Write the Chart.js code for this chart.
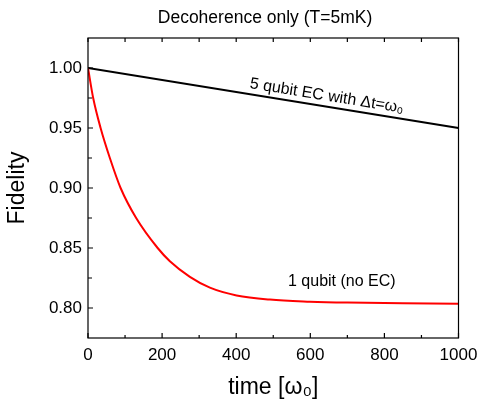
<!DOCTYPE html>
<html>
<head>
<meta charset="utf-8">
<script src="https://cdn.jsdelivr.net/npm/chart.js@4.4.0/dist/chart.umd.min.js"></script>
<style>
    html, body { margin: 0; padding: 0; background: #fff; }
</style>
</head>
<body>
<canvas id="graficoFidelidade" width="479" height="401"></canvas>
<script>
// curva vermelha: 1 qubit sem correcao
const tempo1q = [0, 14, 34, 59, 88, 130, 188, 221, 275, 329, 401, 491, 599, 700, 850, 1000];
const fid1q = [1.0, 0.975, 0.95, 0.925, 0.90, 0.875, 0.85, 0.839, 0.826, 0.817, 0.8105, 0.807, 0.8053, 0.8045, 0.804, 0.8035];

// reta preta: 5 qubits com EC
const tempo5q = [0, 1000];
const fid5q = [1.0, 0.95];

const ticksX = [0, 200, 400, 600, 800, 1000];
const ticksXmenor = [100, 300, 500, 700, 900];
const ticksY = [0.80, 0.85, 0.90, 0.95, 1.00];
const ticksYmenor = [0.825, 0.875, 0.925, 0.975];

const fonte = "'Liberation Sans', Arial, sans-serif";

function pontos(xs, ys) {
    return xs.map(function (v, i) { return { x: v, y: ys[i] }; });
}

// moldura, ticks para dentro e textos
const moldura = {
    id: 'moldura',
    afterDraw(chart) {
        const ctx = chart.ctx;
        const a = chart.chartArea;
        const x = chart.scales.x;
        const y = chart.scales.y;
        ctx.save();
        ctx.strokeStyle = '#000';
        ctx.lineWidth = 1.2;
        ctx.strokeRect(a.left, a.top, a.right - a.left, a.bottom - a.top);

        ctx.beginPath();
        ticksX.forEach(function (v) {
            const px = x.getPixelForValue(v);
            ctx.moveTo(px, a.bottom); ctx.lineTo(px, a.bottom - 5);
            ctx.moveTo(px, a.top); ctx.lineTo(px, a.top + 4);
        });
        ticksXmenor.forEach(function (v) {
            const px = x.getPixelForValue(v);
            ctx.moveTo(px, a.bottom); ctx.lineTo(px, a.bottom - 3);
            ctx.moveTo(px, a.top); ctx.lineTo(px, a.top + 4);
        });
        ticksY.forEach(function (v) {
            const py = y.getPixelForValue(v);
            ctx.moveTo(a.left, py); ctx.lineTo(a.left + 5, py);
        });
        ticksYmenor.forEach(function (v) {
            const py = y.getPixelForValue(v);
            ctx.moveTo(a.left, py); ctx.lineTo(a.left + 4, py);
        });
        ctx.stroke();

        ctx.fillStyle = '#000';
        ctx.font = '17.5px ' + fonte;
        ctx.textAlign = 'center';
        ctx.textBaseline = 'middle';
        ctx.fillText('Decoherence only (T=5mK)', 265, 18);

        // rotulo da reta preta, acompanhando a inclinacao
        const x0 = x.getPixelForValue(tempo5q[0]), y0 = y.getPixelForValue(fid5q[0]);
        const x1 = x.getPixelForValue(tempo5q[1]), y1 = y.getPixelForValue(fid5q[1]);
        const ang = Math.atan2(y1 - y0, x1 - x0);
        const tx = x.getPixelForValue(640);
        const ty = y0 + (tx - x0) * Math.tan(ang);
        ctx.save();
        ctx.translate(tx, ty);
        ctx.rotate(ang);
        ctx.font = '16px ' + fonte;
        ctx.textBaseline = 'alphabetic';
        ctx.fillText('5 qubit EC with \u0394t=\u03c9\u2080', 0, -6);
        ctx.restore();

        ctx.font = '16px ' + fonte;
        ctx.fillText('1 qubit (no EC)', x.getPixelForValue(685), y.getPixelForValue(0.8222));
        ctx.restore();
    }
};

new Chart(document.getElementById('graficoFidelidade'), {
    type: 'line',
    data: {
        datasets: [{
            label: '1 qubit (no EC)',
            data: pontos(tempo1q, fid1q),
            borderColor: 'rgb(255, 0, 0)',
            borderWidth: 2,
            pointRadius: 0,
            cubicInterpolationMode: 'monotone',
            fill: false
        }, {
            label: '5 qubit EC',
            data: pontos(tempo5q, fid5q),
            borderColor: '#000',
            borderWidth: 2,
            pointRadius: 0,
            fill: false
        }]
    },
    options: {
        responsive: false,
        animation: false,
        devicePixelRatio: 1,
        layout: { padding: { top: 38, right: 20.5, bottom: 0, left: 0 } },
        plugins: {
            legend: { display: false },
            tooltip: { enabled: false }
        },
        scales: {
            x: {
                type: 'linear',
                min: 0,
                max: 1000,
                afterBuildTicks: function (s) { s.ticks = ticksX.map(function (v) { return { value: v }; }); },
                afterFit: function (s) { s.height = 63; s.paddingRight = 0; s.paddingLeft = 0; },
                grid: { display: false, drawTicks: false },
                border: { display: false },
                ticks: {
                    color: '#000',
                    padding: 7,
                    maxRotation: 0,
                    font: { family: fonte, size: 17 },
                    callback: function (v) { return String(v); }
                },
                title: {
                    display: true,
                    text: 'time [\u03c9\u2080]',
                    color: '#000',
                    padding: { top: 0, bottom: 0 },
                    font: { family: fonte, size: 23 }
                }
            },
            y: {
                type: 'linear',
                min: 0.775,
                max: 1.025,
                afterBuildTicks: function (s) { s.ticks = ticksY.map(function (v) { return { value: v }; }); },
                afterFit: function (s) { s.width = 88; s.paddingTop = 0; s.paddingBottom = 0; },
                grid: { display: false, drawTicks: false },
                border: { display: false },
                ticks: {
                    color: '#000',
                    padding: 6,
                    font: { family: fonte, size: 17 },
                    callback: function (v) { return v.toFixed(2); }
                },
                title: {
                    display: true,
                    text: 'Fidelity',
                    color: '#000',
                    padding: { top: 4, bottom: 0 },
                    font: { family: fonte, size: 23 }
                }
            }
        }
    },
    plugins: [moldura]
});
</script>
</body>
</html>
